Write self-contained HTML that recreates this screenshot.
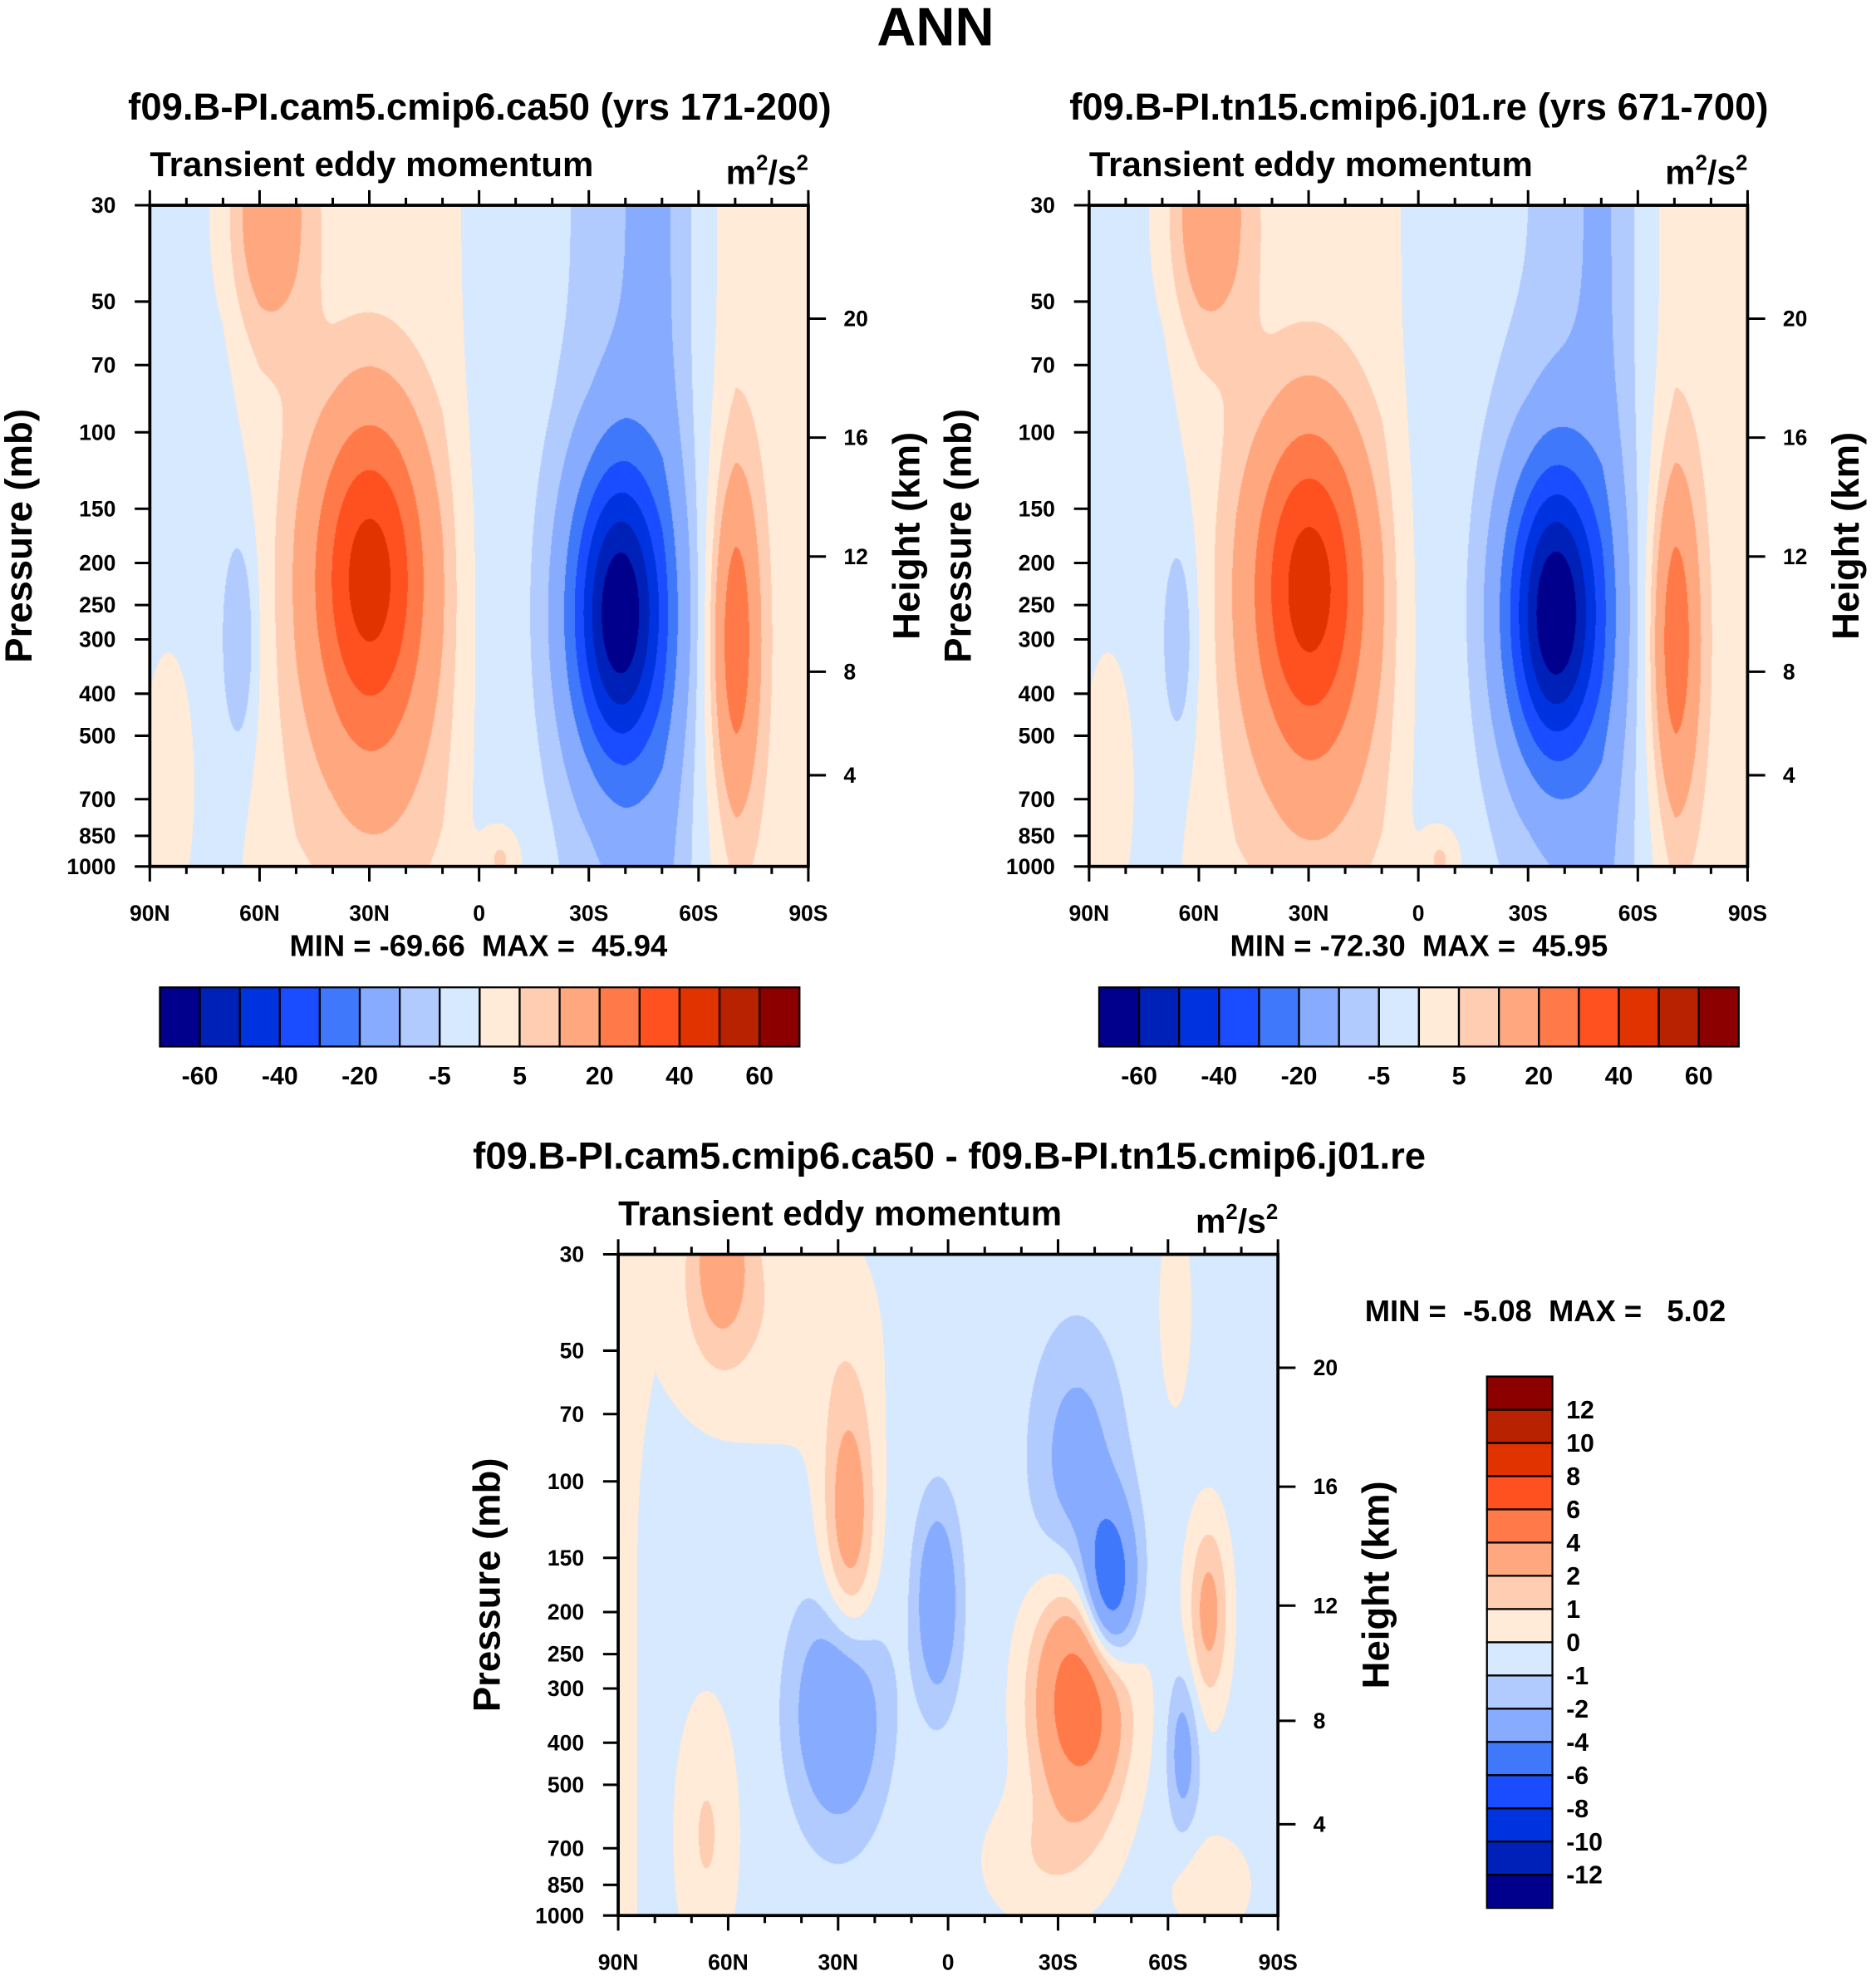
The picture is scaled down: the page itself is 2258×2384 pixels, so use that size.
<!DOCTYPE html>
<html><head><meta charset="utf-8">
<style>
html,body{margin:0;padding:0;background:#fff;}
#wrap{position:relative;width:2258px;height:2384px;overflow:hidden;background:#fff;}
canvas{position:absolute;}
svg{position:absolute;left:0;top:0;}
text{font-family:"Liberation Sans",sans-serif;font-weight:bold;fill:#000;}
</style></head>
<body>
<div id="wrap">
<canvas id="c1"></canvas>
<canvas id="c2"></canvas>
<canvas id="c3"></canvas>
<svg id="sv" width="2258" height="2384" viewBox="0 0 1490 1573" preserveAspectRatio="none"></svg>
</div>
<script>
// ---- data ----
const latTicks = [90,60,30,0,-30,-60,-90];
const latTickLabels = ["90N","60N","30N","0","30S","60S","90S"];
const presTicks = [30,50,70,100,150,200,250,300,400,500,700,850,1000];
const heightTicks = [4,8,12,16,20];
const baseLats = [90,80,70,60,50,40,30,20,10,0,-10,-20,-30,-40,-50,-60,-70,-80,-90];
const base1 = [-2,-2,-2,2,3,2,2,2,2,-2,-3,-4,-6,-10,-12,-3,3,3,3];
const base2 = [-2,-2,-2,2,3,2,2,2,2,-2,-3,-4,-5,-8,-12,-4,3,3,3];
const base3 = [0.5,-0.5,-0.5,-0.5,-0.5,-0.5,-0.5,-0.5,-0.5,-0.5,-0.5,-0.5,-0.5,-0.5,-0.5,-0.4,-0.5,-0.5,-0.5];
// features: [lat, pressure, amplitude, latSigma, lnpSigma]
const feat1 = [[30,210,42,11,0.6],[-38,260,-60,9,0.55],[-70,300,24,4.5,0.6],[58,32,14,8,0.45],[65,300,-9,3.5,0.45],[-6,960,8,4,0.12],[28,600,6,14,0.6],[85,650,4,6,0.6]];
const feat2 = [[30,220,42,11,0.6],[-37,260,-63,9,0.55],[-70,300,24,4.5,0.6],[58,32,14,8,0.45],[65,300,-8,3.5,0.45],[-6,960,8,4,0.12],[28,600,6,14,0.6],[85,650,4,6,0.6]];
const feat3 = [[62,30,2.6,6,0.35],[62,40,1,18,0.5],[35,45,0.7,15,0.5],[27,125,3.4,5,0.5],[30,340,-3.8,8,0.4],[3,190,-3.2,4,0.35],[-44,175,-5.8,5,0.3],[-35,90,-2.2,8,0.45],[-36,320,6.2,9,0.42],[-71,200,3,4,0.35],[-64,420,-2.3,3,0.3],[-25,750,1.2,12,0.25],[66,650,1.6,6,0.5],[-62,40,1.3,3,0.35],[-72,850,1.2,8,0.2]];
const levels1 = [-60,-50,-40,-30,-20,-10,-5,0,5,10,20,30,40,50,60];
const levels3 = [-12,-10,-8,-6,-4,-2,-1,0,1,2,4,6,8,10,12];
const labels1 = ["-60","-40","-20","-5","5","20","40","60"];
const palette = ["#00008c","#0021b8","#0033e0","#1a4dff","#3f78fa","#86abff","#b1cbff","#d6e9ff","#ffebd8","#ffcdb2","#ffa880","#ff7a48","#ff5020","#e03300","#b82200","#8c0000"];

const S = 2258/1490;
const panels = [
 {id:"c1",x0:119,x1:642,y0:163,y1:688,base:base1,feat:feat1,lev:levels1,name:"left"},
 {id:"c2",x0:865,x1:1388,y0:163,y1:688,base:base2,feat:feat2,lev:levels1,name:"right"},
 {id:"c3",x0:491,x1:1015,y0:996,y1:1521,base:base3,feat:feat3,lev:levels3,name:"diff"}
];
function xOf(p,lat){return p.x0+(90-lat)/180*(p.x1-p.x0);}
function yOf(p,pres){return p.y1-Math.log(1000/pres)/Math.log(1000/30)*(p.y1-p.y0);}
function presOfZ(zkm){const z=zkm*1000;return z<11000?1013.25*Math.pow(1-2.25577e-5*z,5.25588):226.32*Math.exp(-(z-11000)/6341.6);}
function interpBase(b,lat){const t=(90-lat)/10;const i=Math.min(17,Math.floor(t));const f=t-i;return b[i]*(1-f)+b[i+1]*f;}
function field(p,lat,pres){
 let v=interpBase(p.base,lat);const lp=Math.log(pres);
 for(const f of p.feat){const a=(lat-f[0])/f[3],b=(lp-Math.log(f[1]))/f[4];v+=f[2]*Math.exp(-0.5*(a*a+b*b));}
 return v;}
function colorIdx(lev,v){let i=0;while(i<lev.length&&v>=lev[i])i++;return i;}
function hex(h){return [parseInt(h.substr(1,2),16),parseInt(h.substr(3,2),16),parseInt(h.substr(5,2),16)];}
const rgb=palette.map(hex);
for(const p of panels){
 const cv=document.getElementById(p.id);
 const W=Math.round((p.x1-p.x0)*S),H=Math.round((p.y1-p.y0)*S);
 cv.width=W;cv.height=H;cv.style.left=(p.x0*S)+"px";cv.style.top=(p.y0*S)+"px";
 const ctx=cv.getContext("2d");const im=ctx.createImageData(W,H);
 for(let j=0;j<H;j++){
  const pres=1000*Math.exp(-(H-j)/H*Math.log(1000/30));
  for(let i=0;i<W;i++){
   const lat=90-i/W*180;const c=rgb[colorIdx(p.lev,field(p,lat,pres))];
   const k=(j*W+i)*4;im.data[k]=c[0];im.data[k+1]=c[1];im.data[k+2]=c[2];im.data[k+3]=255;}
 }
 ctx.putImageData(im,0,0);
}
// ---- svg overlay ----
const sv=document.getElementById("sv");const NS="http://www.w3.org/2000/svg";
function el(tag,attrs,parent){const e=document.createElementNS(NS,tag);for(const k in attrs)e.setAttribute(k,attrs[k]);(parent||sv).appendChild(e);return e;}
function txt(s,x,y,size,anchor,parent){const t=el("text",{x:x,y:y,"font-size":size,"text-anchor":anchor||"start"},parent);t.textContent=s;return t;}
let t=txt("ANN",743,36,43,"middle");


const titles=[["f09.B-PI.cam5.cmip6.ca50 (yrs 171-200)",381,95],["f09.B-PI.tn15.cmip6.j01.re (yrs 671-700)",1127,95],["f09.B-PI.cam5.cmip6.ca50 - f09.B-PI.tn15.cmip6.j01.re",754,928]];
titles.forEach(function(a){const e=txt(a[0],a[1],a[2],30,"middle");

});
const minmax=[["MIN = -69.66  MAX =  45.94",380,759,"middle"],["MIN = -72.30  MAX =  45.95",1127,759,"middle"],["MIN =  -5.08  MAX =   5.02",1084,1049,"start"]];
minmax.forEach(function(a){const e=txt(a[0],a[1],a[2],24,a[3]);e.setAttribute("xml:space","preserve");e.style.whiteSpace="pre";

});
for(const p of panels){
 const g=el("g",{});
 
 
 const r=el("rect",{x:p.x0,y:p.y0,width:p.x1-p.x0,height:p.y1-p.y0,fill:"none",stroke:"#000","stroke-width":2.5},g);
 
 
 const st=txt("Transient eddy momentum",p.x0,p.y0-23,27.7,"start",g);
 
 
 const u=el("text",{x:p.x1,y:p.y0-17,"font-size":27,"text-anchor":"end"},g);
 u.innerHTML='m<tspan dy="-11" font-size="17">2</tspan><tspan dy="11">/s</tspan><tspan dy="-11" font-size="17">2</tspan>';
 
 
 for(let lat=90;lat>=-90;lat-=10){
  const x=xOf(p,lat);const major=(lat%30===0);const L=major?12:6;
  el("line",{x1:x,x2:x,y1:p.y0,y2:p.y0-L,stroke:"#000","stroke-width":2},g);
  el("line",{x1:x,x2:x,y1:p.y1,y2:p.y1+L,stroke:"#000","stroke-width":2},g);
 }
 latTicks.forEach(function(lat,i){const e=txt(latTickLabels[i],xOf(p,lat),p.y1+43,17.5,"middle",g);
  
  });
 presTicks.forEach(function(pr){const y=yOf(p,pr);
  el("line",{x1:p.x0-12,x2:p.x0,y1:y,y2:y,stroke:"#000","stroke-width":2},g);
  const e=txt(String(pr),p.x0-27,y+6,17.5,"end",g);
  
  });
 heightTicks.forEach(function(h){const y=yOf(p,presOfZ(h));
  el("line",{x1:p.x1,x2:p.x1+14,y1:y,y2:y,stroke:"#000","stroke-width":2},g);
  const e=txt(String(h),p.x1+28,y+6,17.5,"start",g);
  
  });
 const cy=(p.y0+p.y1)/2;
 const yl=txt("Pressure (mb)",0,0,30,"middle",g);yl.setAttribute("transform","translate("+(p.x0-94)+","+cy+") rotate(-90)");
 
 
 const yr=txt("Height (km)",0,0,30,"middle",g);yr.setAttribute("transform","translate("+(p.x1+88)+","+cy+") rotate(-90)");
 
 
}
// horizontal colorbars
[[127,635],[873,1381]].forEach(function(cb){
 const g=el("g",{});
 
 
 const w=(cb[1]-cb[0])/16;
 palette.forEach(function(c,i){const r=el("rect",{x:cb[0]+i*w,y:784,width:w,height:47,fill:c,stroke:"#000","stroke-width":1.5},g);
  
  });
 labels1.forEach(function(s,k){const e=txt(s,cb[0]+(2*k+1)*w,861,20,"middle",g);
  
  });
});
// vertical colorbar
(function(){
 const g=el("g",{});
 
 
 const y0=1093,y1=1515,h=(y1-y0)/16;
 palette.forEach(function(c,i){const r=el("rect",{x:1181,y:y1-(i+1)*h,width:52,height:h,fill:c,stroke:"#000","stroke-width":1.5},g);
  
  });
 levels3.forEach(function(v,i){const e=txt(String(v),1244,y1-(i+1)*h+7,20,"start",g);
  
  });
})();
</script>
</body></html>
